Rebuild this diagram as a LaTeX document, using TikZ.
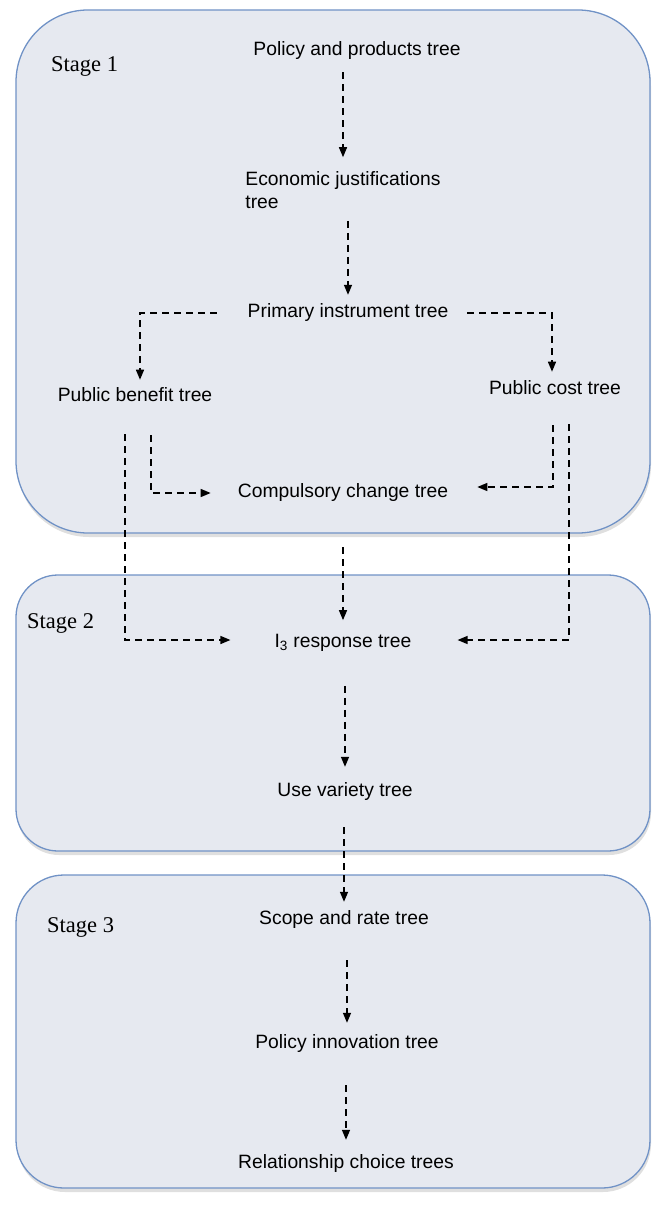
\documentclass[tikz,border=0pt]{standalone}
\usepackage{fontspec}
\setmainfont{Liberation Sans}
\newfontfamily\stagefont{Liberation Serif}
\usetikzlibrary{arrows.meta, shadows}

\definecolor{stagefill}{RGB}{230,233,240}
\definecolor{stageline}{RGB}{112,146,198}

\begin{document}
\begin{tikzpicture}[
    x=1pt, y=-1pt,
    every node/.style={inner sep=0pt, font=\fontsize{19.3}{23}\selectfont},
    stagebox/.style={draw=stageline, line width=1.3pt, fill=stagefill,
        drop shadow={opacity=0.25, shadow xshift=1pt, shadow yshift=-4pt}},
    stagelabel/.style={anchor=west, font=\stagefont\fontsize{22.5}{26}\selectfont},
    arrow/.style={-{Triangle[length=10pt,width=8pt]}, line width=1.4pt,
        dash pattern=on 7pt off 5pt}
]
\useasboundingbox (0,0) rectangle (652,1206);

% Stage boxes
\draw[stagebox, rounded corners=72pt] (16,10) rectangle (650,533);
\draw[stagebox, rounded corners=42pt] (16,575) rectangle (650,851);
\draw[stagebox, rounded corners=48pt] (16,875) rectangle (650,1188);

\node[stagelabel] (s1) at (51,66) {Stage 1};
\node[stagelabel] (s2) at (27,623) {Stage 2};
\node[stagelabel] (s3) at (47,927) {Stage 3};

% Stage 1
\node (policy) at (357,51) {Policy and products tree};
\node[align=left] (econ) at (343,190) {Economic justifications\\tree};
\node (prim) at (348,313) {Primary instrument tree};
\node (benefit) at (135,395) {Public benefit tree};
\node (cost) at (555,388) {Public cost tree};
\node (compulsory) at (343,493) {Compulsory change tree};

\draw[arrow, shorten <=12pt, shorten >=14pt] (policy.south -| econ.north) -- (econ.north);
\draw[arrow, shorten <=12pt, shorten >=9pt] (econ.south -| prim.north) -- (prim.north);
\draw[arrow, shorten <=31pt, shorten >=8pt] (prim.west) -| ([xshift=5pt]benefit.north);
\draw[arrow, shorten <=19pt, shorten >=9pt] (prim.east) -| ([xshift=-3pt]cost.north);
\draw[arrow, shorten <=33pt, shorten >=27pt] ([xshift=16pt]benefit.south) |- (compulsory.west);
\draw[arrow, shorten <=30pt, shorten >=29pt] ([xshift=-2pt]cost.south) |- ([yshift=6pt]compulsory.east);

% Stage 2
\node (resp) at (343,643) {I\textsubscript{3} response tree};
\node (usevar) at (345,792) {Use variety tree};

\draw[arrow, shorten <=32pt, shorten >=44pt] ([xshift=-10pt]benefit.south) |- ([yshift=3pt]resp.west);
\draw[arrow, shorten <=29pt, shorten >=46pt] ([xshift=14pt]cost.south) |- ([yshift=3pt]resp.east);
\draw[arrow, shorten <=45pt, shorten >=14pt] (compulsory.south -| resp.north) -- (resp.north);
\draw[arrow, shorten <=34pt, shorten >=16pt] (resp.south -| usevar.north) -- (usevar.north);

% Stage 3
\node (scope) at (344,919) {Scope and rate tree};
\node (innov) at (347,1043) {Policy innovation tree};
\node (relation) at (346,1163) {Relationship choice trees};

\draw[arrow, shorten <=26pt, shorten >=8pt] (usevar.south -| scope.north) -- (scope.north);
\draw[arrow, shorten <=32pt, shorten >=11pt] (scope.south -| innov.north) -- (innov.north);
\draw[arrow, shorten <=33pt, shorten >=14pt] (innov.south -| relation.north) -- (relation.north);

\end{tikzpicture}
\end{document}
